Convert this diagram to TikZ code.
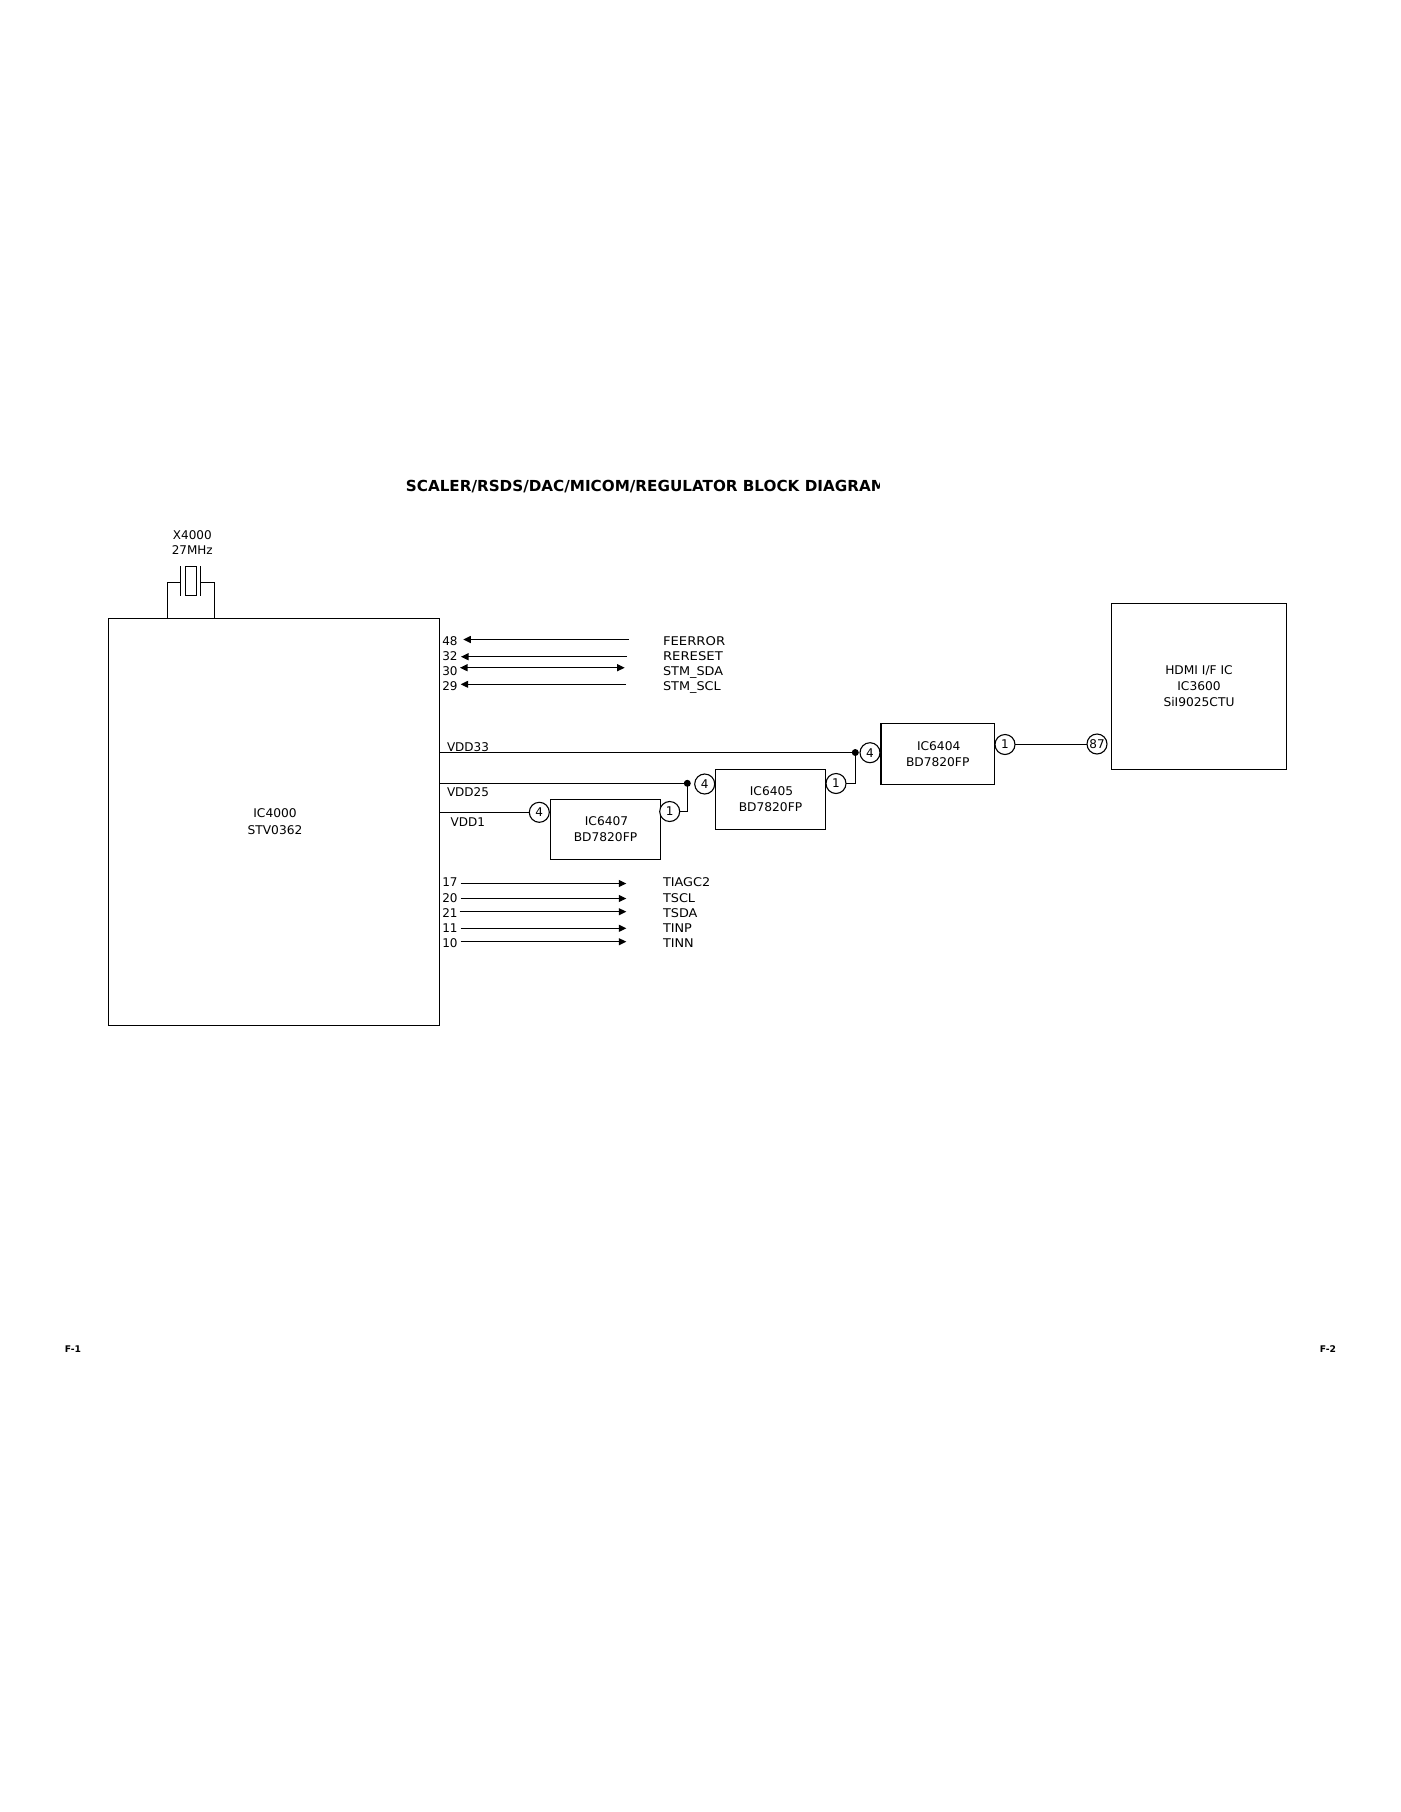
\documentclass[tikz,border=0pt]{standalone}
\usepackage{fontspec}
\setmainfont{DejaVu Sans}
\newfontfamily\siglabel[FakeStretch=1.07]{DejaVu Sans}
\newfontfamily\sigwide[FakeStretch=1.10]{DejaVu Sans}
\newfontfamily\boxfont[FakeStretch=1.02]{DejaVu Sans}
\usetikzlibrary{arrows.meta,calc}
\newcommand{\shft}{\kern2pt}
\tikzset{
  x=1pt,y=-1pt,
  wire/.style={line width=1.1pt,line cap=butt},
  icbox/.style={draw,line width=1.1pt,rectangle,inner sep=0pt,outer sep=0pt,align=center,font=\boxfont\fontsize{12}{16}\selectfont},
  pincirc/.style={draw,line width=1.1pt,circle,fill=white,minimum size=20pt,inner sep=0pt,outer sep=0pt,font=\fontsize{12}{14}\selectfont,text height=8.75pt,text depth=0pt},
  junction/.style={fill=black,circle,minimum size=7pt,inner sep=0pt,outer sep=0pt},
  txt/.style={inner sep=0pt,outer sep=0pt,font=\fontsize{12}{14}\selectfont,text height=8.75pt,text depth=0pt},
  sig/.style={txt,anchor=west,font=\siglabel\fontsize{12}{14}\selectfont},
  sigw/.style={txt,anchor=west,font=\sigwide\fontsize{12}{14}\selectfont},
  pinno/.style={txt,anchor=west},
  sigarrow/.style={wire,-{Triangle[length=7.5pt,width=7pt]}},
  bisigarrow/.style={wire,{Triangle[length=7.5pt,width=7pt]}-{Triangle[length=7.5pt,width=7pt]}},
}
\begin{document}
\begin{tikzpicture}
\useasboundingbox (0,0) rectangle (1400,1812);
% title
\begin{scope}
\clip (400,470) rectangle (879.5,500);
\node[inner sep=0pt,anchor=west,font=\bfseries\fontsize{15.2}{18}\selectfont] (title) at (405.7,487) {SCALER/RSDS/DAC/MICOM/REGULATOR BLOCK DIAGRAM};
\end{scope}
% boxes
\node[icbox,minimum width=331.4pt,minimum height=407pt,font=\boxfont\fontsize{12}{17.5}\selectfont] (ic4000) at (274,821.8) {\shft IC4000\\\shft STV0362};
\node[icbox,minimum width=110.4pt,minimum height=60pt] (ic6407) at (605.5,829.3) {\shft IC6407\\BD7820FP};
\node[icbox,minimum width=110.4pt,minimum height=60pt] (ic6405) at (770.5,799.3) {\shft IC6405\\BD7820FP};
\node[icbox,minimum width=114pt,minimum height=61pt] (ic6404) at (937.7,753.8) {\shft IC6404\\BD7820FP};
\node[icbox,minimum width=175.4pt,minimum height=166pt] (ic3600) at (1199,686.3) {HDMI I/F IC\\IC3600\\SiI9025CTU};
\draw[line width=1.8pt] (ic6404.north west) -- (ic6404.south west);
% crystal
\node[txt,align=center,font=\fontsize{12}{15}\selectfont,text height=,text depth=] (x4000) at (192.3,542.5) {X4000\\27MHz};
\node[draw,line width=1.1pt,rectangle,inner sep=0pt,outer sep=0pt,minimum width=11.4pt,minimum height=29.5pt] (xbody) at (191,580.8) {};
\coordinate (xp1t) at (180.3,566); \coordinate (xp1b) at (180.3,596.3);
\coordinate (xp2t) at (200.3,566); \coordinate (xp2b) at (200.3,596.3);
\coordinate (xl1) at (180.3,582.3); \coordinate (xl2) at (200.3,582.3);
\coordinate (xf1) at (167.3,618.3); \coordinate (xf2) at (214.3,618.3);
\draw[wire] (xp1t) -- (xp1b);
\draw[wire] (xp2t) -- (xp2b);
\draw[wire] (xf1) |- (xl1);
\draw[wire] (xf2) |- (xl2);
% pin numbers top
\node[pinno] (p48) at (442.3,641) {48};
\node[pinno] (p32) at (442.3,656) {32};
\node[pinno] (p30) at (442.3,671) {30};
\node[pinno] (p29) at (442.3,686) {29};
% signal labels top
\node[sigw] (feerror) at (663,641) {FEERROR};
\node[sigw] (rereset) at (663,656) {RERESET};
\node[sig] (stmsda) at (663,671) {STM\_SDA};
\node[sig] (stmscl) at (663,686) {STM\_SCL};
% arrows top
\coordinate (a48l) at (463.3,639.5); \coordinate (a48r) at (628.7,639.5);
\coordinate (a32l) at (461,656.7); \coordinate (a32r) at (627,656.7);
\coordinate (a30l) at (460,667.7); \coordinate (a30r) at (624.7,667.7);
\coordinate (a29l) at (460.7,684.3); \coordinate (a29r) at (626,684.3);
\draw[sigarrow] (a48r) -- (a48l);
\draw[sigarrow] (a32r) -- (a32l);
\draw[bisigarrow] (a30l) -- (a30r);
\draw[sigarrow] (a29r) -- (a29l);
% pin numbers bottom
\node[pinno] (p17) at (442.3,882) {17};
\node[pinno] (p20) at (442.3,898.5) {20};
\node[pinno] (p21) at (442.3,913.5) {21};
\node[pinno] (p11) at (442.3,928) {11};
\node[pinno] (p10) at (442.3,943.5) {10};
% signal labels bottom
\node[sig] (tiagc) at (663,882) {TIAGC2};
\node[sig] (tscl) at (663,898.5) {TSCL};
\node[sig] (tsda) at (663,913.5) {TSDA};
\node[sig] (tinp) at (663,928) {TINP};
\node[sig] (tinn) at (663,943.5) {TINN};
% arrows bottom
\coordinate (a17l) at (460.7,883.5); \coordinate (a17r) at (626.3,883.5);
\coordinate (a20l) at (460.7,898.5); \coordinate (a20r) at (626.3,898.5);
\coordinate (a21l) at (459.7,911.7); \coordinate (a21r) at (626.3,911.7);
\coordinate (a11l) at (460.7,928.3); \coordinate (a11r) at (626.3,928.3);
\coordinate (a10l) at (460.7,941.7); \coordinate (a10r) at (626.3,941.7);
\draw[sigarrow] (a17l) -- (a17r);
\draw[sigarrow] (a20l) -- (a20r);
\draw[sigarrow] (a21l) -- (a21r);
\draw[sigarrow] (a11l) -- (a11r);
\draw[sigarrow] (a10l) -- (a10r);
% rail labels
\node[pinno] (vdd33) at (447,747) {VDD33};
\node[pinno] (vdd25) at (447,792) {VDD25};
\node[pinno] (vdd1) at (450.7,822) {VDD1};
% pin circles
\node[pincirc] (c6404in) at (870,752.7) {4};
\node[pincirc] (c6404out) at (1005,744.5) {1};
\node[pincirc] (c87) at (1097,744) {87};
\node[pincirc] (c6405in) at (704.7,784) {4};
\node[pincirc] (c6405out) at (836,783.5) {1};
\node[pincirc] (c6407in) at (539.3,812.3) {4};
\node[pincirc] (c6407out) at (669.7,811.5) {1};
% junctions
\node[junction] (j33) at (855.3,752.5) {};
\node[junction] (j25) at (687.3,783.3) {};
% connectors
\coordinate (r33) at (ic4000.east |- j33);
\coordinate (r25) at (ic4000.east |- j25);
\coordinate (r1) at (ic4000.east |- c6407in);
\coordinate (l87) at (c87.west |- c6404out);
\draw[wire] (r33) -- (j33.center);
\draw[wire] (r25) -- (j25.center);
\draw[wire] (r1) -- (c6407in);
\draw[wire] (c6407out) -| (j25.center);
\draw[wire] (c6405out) -| (j33.center);
\draw[wire] (c6404out.east) -- (l87);
% page marks
\node[inner sep=0pt,font=\bfseries\fontsize{9.2}{10}\selectfont] (f1) at (73,1349) {F-1};
\node[inner sep=0pt,font=\bfseries\fontsize{9.2}{10}\selectfont] (f2) at (1328,1349) {F-2};
\end{tikzpicture}
\end{document}
